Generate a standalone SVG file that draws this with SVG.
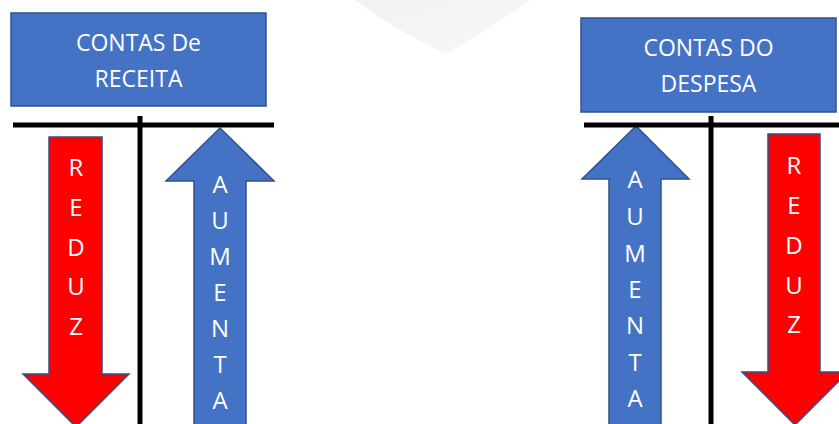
<svg xmlns="http://www.w3.org/2000/svg" width="839" height="424" viewBox="0 0 839 424">
  <defs>
    <linearGradient id="wm" x1="0" y1="0" x2="1" y2="1">
      <stop offset="0" stop-color="#f1f1f1"/>
      <stop offset="1" stop-color="#f8f8f8"/>
    </linearGradient>
  </defs>
  <style>
    .box { fill: #4472C4; stroke: #2F528F; stroke-width: 1.5; }
    .up { fill: #4472C4; stroke: #2F528F; stroke-width: 1.5; stroke-linejoin: miter; }
    .down { fill: #FF0000; stroke: #2F528F; stroke-width: 1.5; stroke-linejoin: miter; }
    .t { font-family: "Open Sans", "Liberation Sans", sans-serif; font-size: 23px; fill: #ffffff; text-anchor: middle; }
    .l { font-size: 24px; }
    .line { stroke: #000000; stroke-width: 5; fill: none; }
  </style>
  <rect width="839" height="424" fill="#ffffff"/>
  <path d="M355,0 Q392,28 446,54 Q492,28 530,0 Z" fill="url(#wm)"/>

  <g id="box-receita">
    <rect class="box" x="11" y="13" width="255" height="93"/>
    <text class="t" x="138.5" y="51">CONTAS De</text>
    <text class="t" x="138.5" y="87">RECEITA</text>
  </g>

  <g id="box-despesa">
    <rect class="box" x="581" y="18" width="255" height="94"/>
    <text class="t" x="708.5" y="56">CONTAS DO</text>
    <text class="t" x="708.5" y="92">DESPESA</text>
  </g>

  <g id="arrow-reduz-left">
    <polygon class="down" points="49,137 102,137 102,374 129,374 76,427 23,374 49,374"/>
    <text class="t l" x="76" y="176">R</text>
    <text class="t l" x="76" y="216">E</text>
    <text class="t l" x="76" y="256">D</text>
    <text class="t l" x="76" y="295">U</text>
    <text class="t l" x="76" y="335">Z</text>
  </g>

  <g id="arrow-aumenta-left">
    <polygon class="up" points="220,128 274,181 246,181 246,430 194,430 194,181 166,181"/>
    <text class="t l" x="220" y="193">A</text>
    <text class="t l" x="220" y="229">U</text>
    <text class="t l" x="220" y="265">M</text>
    <text class="t l" x="220" y="301">E</text>
    <text class="t l" x="220" y="337">N</text>
    <text class="t l" x="220" y="373">T</text>
    <text class="t l" x="220" y="409">A</text>
  </g>

  <g id="arrow-aumenta-right">
    <polygon class="up" points="636,126 689,179 661,179 661,430 609,430 609,179 582,179"/>
    <text class="t l" x="635" y="188">A</text>
    <text class="t l" x="635" y="225">U</text>
    <text class="t l" x="635" y="262">M</text>
    <text class="t l" x="635" y="298">E</text>
    <text class="t l" x="635" y="334">N</text>
    <text class="t l" x="635" y="371">T</text>
    <text class="t l" x="635" y="407">A</text>
  </g>

  <g id="arrow-reduz-right">
    <polygon class="down" points="768,134 820,134 820,372 848,372 795,425 742,372 768,372"/>
    <text class="t l" x="794" y="174">R</text>
    <text class="t l" x="794" y="214">E</text>
    <text class="t l" x="794" y="254">D</text>
    <text class="t l" x="794" y="294">U</text>
    <text class="t l" x="794" y="333">Z</text>
  </g>

  <g id="connectors">
    <line class="line" x1="13" y1="125" x2="274" y2="125"/>
    <line class="line" x1="140" y1="116" x2="140" y2="424"/>
    <line class="line" x1="584" y1="125" x2="839" y2="125"/>
    <line class="line" x1="711" y1="116" x2="711" y2="424"/>
  </g>
</svg>
